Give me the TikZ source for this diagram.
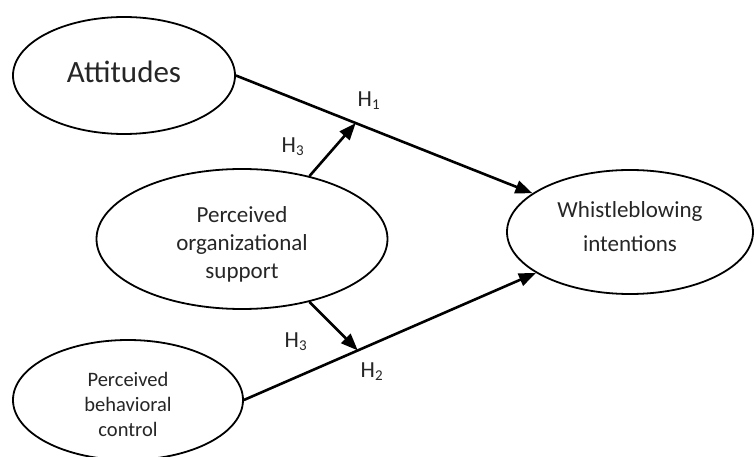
\documentclass[tikz,border=0pt]{standalone}
\usepackage{fontspec}
\setmainfont{Carlito}
\usetikzlibrary{arrows.meta,calc,shapes.geometric}
\tikzset{
  ell/.style={draw=black, line width=1.8pt, ellipse, inner sep=0pt},
  txt/.style={align=center, text=black!85, inner sep=0pt},
  conn/.style={line width=2.6pt, -{Triangle[length=17pt,width=13pt]}},
  hlab/.style={anchor=base west, inner sep=0pt, text=black!85, font=\fontsize{23}{23}\selectfont}
}
\newcommand{\hsub}[1]{\raisebox{-2.5pt}{\fontsize{15}{15}\selectfont #1}}
\begin{document}
\begin{tikzpicture}[x=1pt,y=-1pt]
\useasboundingbox[fill=white] (0,0) rectangle (756,457);
% ellipses
\node[ell, minimum width=222pt, minimum height=117pt] (att) at (124,75.5) {};
\node[ell, minimum width=291pt, minimum height=140pt] (pos) at (242,239) {};
\node[ell, minimum width=230pt, minimum height=120pt] (pbc) at (128,400) {};
\node[ell, minimum width=246pt, minimum height=124pt] (wi) at (630,232) {};
% texts
\node[txt, font=\fontsize{31}{31}\selectfont] (attT) at (124,72) {Attitudes};
\node[txt, font=\fontsize{23}{28}\selectfont] (posT) at (242,244) {Perceived\\organizational\\support};
\node[txt, font=\fontsize{20.5}{25}\selectfont] (pbcT) at (128,404) {Perceived\\behavioral\\control};
\node[txt, font=\fontsize{23}{34}\selectfont] (wiT) at (630,227) {Whistleblowing\\intentions};
% main paths
\draw[conn] (att.east) -- (wi);
\draw[conn] (pbc.east) -- (wi);
% moderation targets
\coordinate (m1) at ($(att.east)!0.304!(wi.center)$);
\coordinate (m2) at ($(pbc.east)!0.295!(wi.center)$);
\draw[conn] (pos.43) -- (m1);
\draw[conn] (pos.-43) -- (m2);
% labels
\node[hlab] (h1) at (357.5,107) {H\hsub{1}};
\node[hlab] (h3a) at (281.5,153) {H\hsub{3}};
\node[hlab] (h3b) at (284.5,348) {H\hsub{3}};
\node[hlab] (h2) at (360.5,378) {H\hsub{2}};
\end{tikzpicture}
\end{document}
